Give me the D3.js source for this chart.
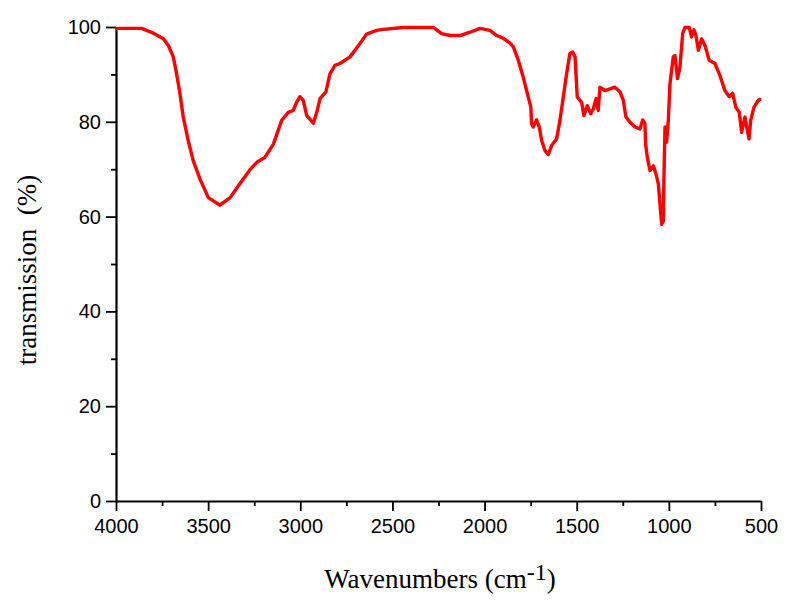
<!DOCTYPE html>
<html>
<head>
<meta charset="utf-8">
<script src="https://cdn.jsdelivr.net/npm/d3@7"></script>
<style>
html,body{margin:0;padding:0;background:#fff;}
svg{display:block;}
</style>
</head>
<body>
<svg id="chart" width="795" height="604"></svg>
<script>
const wavenumbers = [3996,3861,3797,3743,3716,3689,3671,3653,3635,3608,3581,3544,3499,3436,3381,3327,3273,3237,3192,3146,3101,3065,3038,3020,3002,2984,2965,2929,2908,2893,2861,2839,2812,2785,2730,2676,2640,2586,2550,2441,2278,2233,2188,2133,2079,2025,1971,1934,1898,1862,1844,1817,1790,1772,1749,1745,1736,1718,1703,1690,1672,1654,1636,1609,1591,1573,1555,1537,1522,1509,1497,1473,1461,1443,1424,1410,1395,1383,1374,1347,1293,1265,1247,1233,1211,1184,1157,1142,1130,1126,1117,1102,1084,1070,1057,1048,1039,1030,1027,1021,1012,1003,994,976,967,953,940,925,913,889,877,864,853,840,822,804,781,750,723,696,672,654,636,618,605,587,574,565,556,538,515,506];
const transmission = [99.7,99.7,98.7,97.5,96.1,93.7,90.1,85.9,81.0,76.0,71.8,67.9,64.0,62.4,64.0,67.0,69.9,71.4,72.5,75.3,80.3,82.0,82.4,84.1,85.3,84.5,81.3,79.7,82.4,84.9,86.3,90.1,91.9,92.3,93.7,96.5,98.5,99.3,99.5,99.9,99.9,98.6,98.2,98.2,98.9,99.7,99.3,98.2,97.6,96.6,95.8,93.0,89.4,86.6,83.1,79.6,78.9,80.4,78.9,76.0,73.9,73.1,75.0,76.4,80.3,85.2,90.1,94.4,94.7,93.7,85.2,84.1,81.3,83.4,81.7,82.7,84.9,82.4,87.3,86.6,87.3,86.3,84.5,81.0,79.9,78.9,78.5,80.4,79.6,75.3,72.5,69.7,70.7,69.0,66.9,62.6,58.4,59.1,67.6,78.9,75.7,80.3,88.0,93.7,94.0,89.1,91.5,98.6,99.9,99.9,97.9,99.4,98.2,95.1,97.5,96.1,93.0,92.3,89.8,86.6,85.3,86.0,83.0,82.0,77.8,81.0,78.2,76.4,80.3,83.1,84.5,84.7];
const xTicks = [4000,3500,3000,2500,2000,1500,1000,500];
const xMinorTicks = [3750,3250,2750,2250,1750,1250,750];
const yTicks = [0,20,40,60,80,100];
const yMinorTicks = [10,30,50,70,90];

(function(){
const svg = d3.select("#chart");
const mLeft = 116, mRight = 761, mTop = 27, mBottom = 501;
const x = d3.scaleLinear().domain([4000,500]).range([mLeft,mRight]);
const y = d3.scaleLinear().domain([0,100]).range([mBottom,mTop]);

const tickFont = "'Liberation Sans', Arial, sans-serif";
const titleFont = "'Liberation Serif', 'Times New Roman', serif";

// minor ticks
svg.append("g").attr("transform",`translate(0,${mBottom})`)
  .call(d3.axisBottom(x).tickValues(xMinorTicks).tickSize(5).tickFormat(""))
  .call(g=>g.select(".domain").remove())
  .call(g=>g.selectAll("line").attr("stroke","#000").attr("stroke-width",1.8));
svg.append("g").attr("transform",`translate(${mLeft},0)`)
  .call(d3.axisLeft(y).tickValues(yMinorTicks).tickSize(5).tickFormat(""))
  .call(g=>g.select(".domain").remove())
  .call(g=>g.selectAll("line").attr("stroke","#000").attr("stroke-width",1.8));

// major axes
const gx = svg.append("g").attr("transform",`translate(0,${mBottom})`)
  .call(d3.axisBottom(x).tickValues(xTicks).tickSize(10).tickSizeOuter(0).tickPadding(8).tickFormat(d3.format("d")));
gx.select(".domain").attr("stroke","#000").attr("stroke-width",2.2);
gx.selectAll("line").attr("stroke","#000").attr("stroke-width",1.8);
gx.selectAll("text").attr("font-family",tickFont).attr("font-size",20).attr("fill","#000");

const gy = svg.append("g").attr("transform",`translate(${mLeft},0)`)
  .call(d3.axisLeft(y).tickValues(yTicks).tickSize(10).tickSizeOuter(0).tickPadding(5).tickFormat(d3.format("d")));
gy.select(".domain").attr("stroke","#000").attr("stroke-width",2.2);
gy.selectAll("line").attr("stroke","#000").attr("stroke-width",1.8);
gy.selectAll("text").attr("font-family",tickFont).attr("font-size",20).attr("fill","#000");

// line
const line = d3.line().x((d,i)=>x(wavenumbers[i])).y(d=>y(d)).curve(d3.curveLinear);
svg.append("path").datum(transmission)
  .attr("d",line).attr("fill","none").attr("stroke","#ff0000")
  .attr("stroke-width",3.4).attr("stroke-linejoin","round").attr("stroke-linecap","round");

// titles
const xt = svg.append("text").attr("x",440).attr("y",588).attr("text-anchor","middle")
  .attr("font-family",titleFont).attr("font-size",27).attr("fill","#000");
xt.append("tspan").text("Wavenumbers (cm");
xt.append("tspan").attr("dy",-8).attr("font-size",24).text("-1");
xt.append("tspan").attr("dy",8).text(")");

svg.append("text").attr("transform","translate(36,270) rotate(-90)")
  .attr("text-anchor","middle").attr("font-family",titleFont).attr("font-size",27)
  .attr("fill","#000").style("white-space","pre")
  .text("transmission  (%)");
})();
</script>
</body>
</html>
